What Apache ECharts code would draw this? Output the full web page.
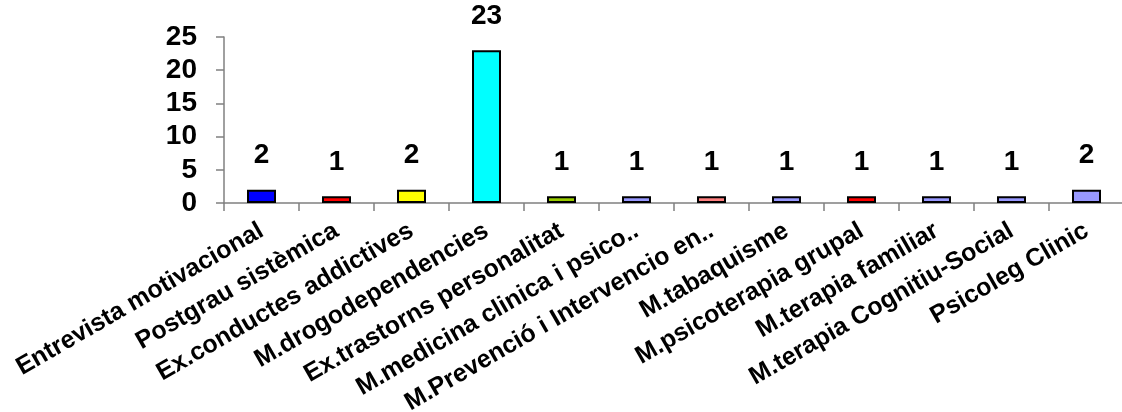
<!DOCTYPE html>
<html><head><meta charset="utf-8">
<script src="https://cdn.jsdelivr.net/npm/echarts@6/dist/echarts.min.js"></script>
<style>html,body{margin:0;padding:0;background:#fff}#c{width:1122px;height:412px}</style>
</head><body><div id="c"></div>
<script>
const categories = ["Entrevista motivacional","Postgrau sistèmica","Ex.conductes addictives","M.drogodependencies","Ex.trastorns personalitat","M.medicina clinica i psico..","M.Prevenció i Intervencio en..","M.tabaquisme","M.psicoterapia grupal","M.terapia familiar","M.terapia Cognitiu-Social","Psicoleg Clinic"];
const values = [2,1,2,23,1,1,1,1,1,1,1,2];
const barColors = ["#0000FF","#FF0000","#FFFF00","#00FFFF","#99CC00","#9999FF","#FF8080","#9999FF","#FF0000","#9999FF","#9999FF","#9999FF"];
const yTicks = {min:0,max:25,interval:5};
const FONT = "'Liberation Sans', Arial, sans-serif";
const chart = echarts.init(document.getElementById('c'), null, {renderer:'canvas'});
chart.setOption({
  animation:false,
  backgroundColor:'#fff',
  grid:{left:224, top:37, width:900, bottom:209, containLabel:false, outerBoundsMode:'none'},
  xAxis:{type:'category', data:categories, boundaryGap:true,
    axisLine:{lineStyle:{color:'#808080',width:1.5}},
    axisTick:{show:true, inside:false, length:8, alignWithLabel:false, lineStyle:{color:'#808080',width:1.5}},
    axisLabel:{interval:0, rotate:30, margin:26, fontFamily:FONT, fontWeight:'bold', fontSize:25, color:'#000'}},
  yAxis:{type:'value', min:yTicks.min, max:yTicks.max, interval:yTicks.interval,
    splitLine:{show:false},
    axisLine:{show:true, lineStyle:{color:'#808080',width:1.5}},
    axisTick:{show:true, length:8, lineStyle:{color:'#808080',width:1.5}},
    axisLabel:{margin:27, fontFamily:FONT, fontWeight:'bold', fontSize:28, color:'#000'}},
  series:[{type:'bar', barWidth:29,
    data:values.map((v,i)=>({value:v, itemStyle:{color:barColors[i]}})),
    itemStyle:{borderColor:'#000', borderWidth:2},
    label:{show:true, position:'top', distance:20, fontFamily:FONT, fontWeight:'bold', fontSize:28, color:'#000'}}]
});
</script></body></html>
